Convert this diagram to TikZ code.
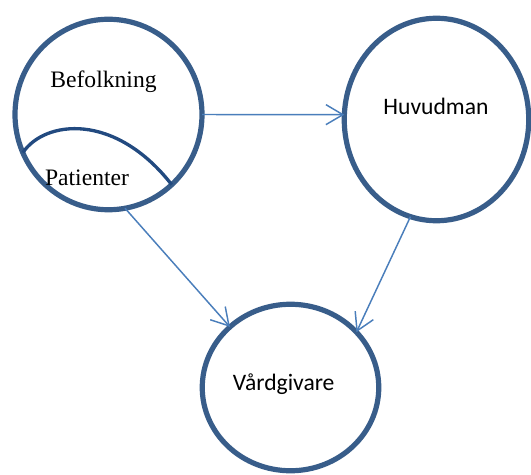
\documentclass[tikz,border=0pt]{standalone}
\usepackage{fontspec}
\setmainfont{Liberation Serif}
\newfontfamily\calfont{Carlito}
\usetikzlibrary{shapes.geometric,arrows.meta}
\definecolor{ringblue}{RGB}{56,93,138}
\definecolor{arcblue}{RGB}{34,74,128}
\definecolor{arrowblue}{RGB}{74,126,187}
\tikzset{
  ring/.style={draw=ringblue, line width=3.9pt, ellipse, inner sep=0pt, outer sep=0pt},
  serlabel/.style={font=\fontsize{17.7}{20}\selectfont, inner sep=0pt, anchor=base},
  sanslabel/.style={font=\calfont\fontsize{17.7}{20}\selectfont, inner sep=0pt, anchor=base},
  flow/.style={draw=arrowblue, line width=1.1pt, -{Straight Barb[length=12.75pt,width=15pt,line width=1.1pt]}},
  subset/.style={draw=arcblue, line width=2.5pt}
}
\begin{document}
\begin{tikzpicture}[x=0.75pt,y=-0.75pt]
\useasboundingbox (0,0) rectangle (531,474);
\node[ring, minimum width=187*0.75pt, minimum height=190.5*0.75pt] (bef) at (108.5,114.5) {};
\node[ring, minimum width=184.5*0.75pt, minimum height=202.5*0.75pt] (huv) at (436.5,119.5) {};
\node[ring, minimum width=176.5*0.75pt, minimum height=166.5*0.75pt] (vard) at (290.5,387.5) {};
\node[serlabel] (tbef) at (103.5,88) {Befolkning};
\node[serlabel] (tpat) at (87,185) {Patienter};
\node[sanslabel] (thuv) at (436,115) {Huvudman};
\node[sanslabel] (tvard) at (283.7,390) {Vårdgivare};
\draw[subset] (bef.204) .. controls (45,120) and (115,112) .. (bef.-48);
\draw[flow] (bef.-0.9) -- (huv.177.8);
\draw[flow] (bef.-80) -- (vard.135.6);
\draw[flow] (huv.255.6) -- (vard.40.6);
\end{tikzpicture}
\end{document}
